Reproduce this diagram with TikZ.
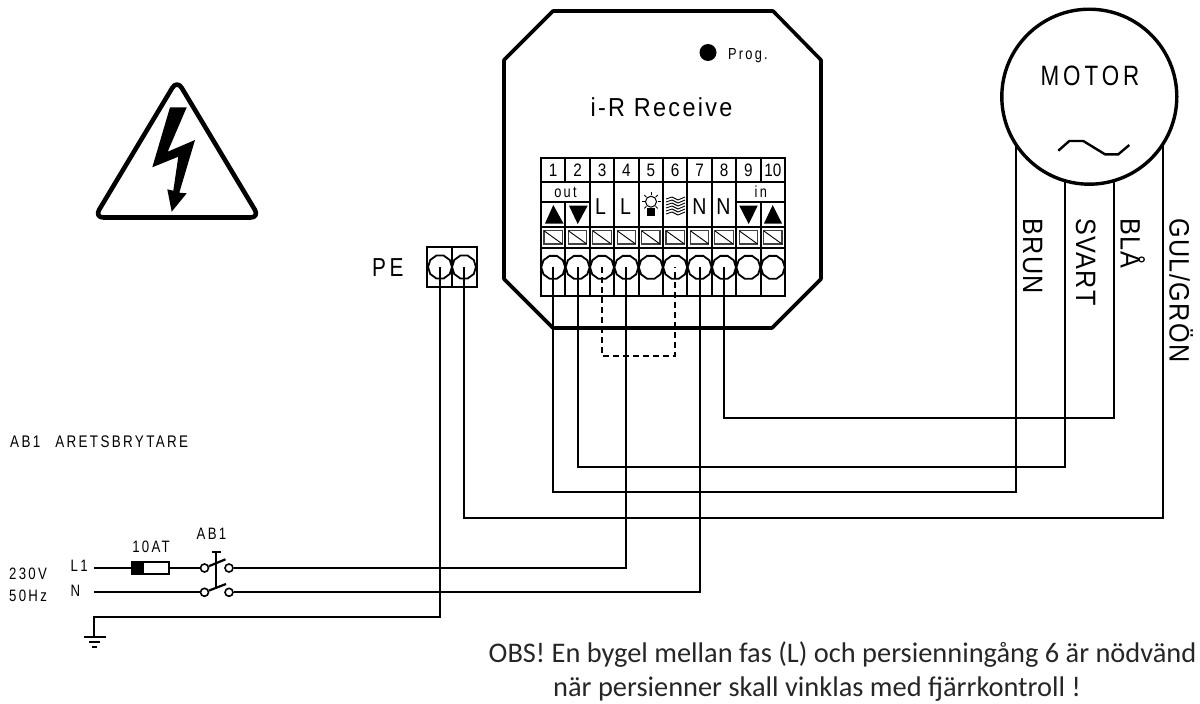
\documentclass[tikz,border=0pt]{standalone}
\usepackage{fontspec}
\setmainfont{Liberation Sans}
\newfontfamily\spcfont[LetterSpace=14,FakeStretch=0.8]{Liberation Sans}
\newfontfamily\widefont[LetterSpace=5,FakeStretch=0.9]{Liberation Sans}
\newfontfamily\recfont[LetterSpace=9,FakeStretch=0.9]{Liberation Sans}
\newfontfamily\nrwfont[FakeStretch=0.85]{Liberation Sans}
\newfontfamily\obsfont{Carlito}
\usetikzlibrary{
    positioning,
    shapes.geometric,
    calc,
}

\begin{document}
\begin{tikzpicture}[
        x=1pt, y=-1pt,
        wire/.style={line width=2pt, black},
        casing/.style={line width=3.6pt, black, line join=round},
        grid/.style={line width=2pt, black},
        txt/.style={inner sep=0pt, font=\spcfont\fontsize{#1}{#1}\selectfont},
        plain/.style={inner sep=0pt, font=\nrwfont\fontsize{#1}{#1}\selectfont},
        colour/.style={inner sep=0pt, rotate=-90, anchor=base west, font=\widefont\fontsize{28}{28}\selectfont},
        note/.style={inner sep=0pt, anchor=base west, font=\obsfont\fontsize{28.4}{28.4}\selectfont, text=black!85},
        screw/.style={
            regular polygon, regular polygon sides=10, draw=black, line width=1.8pt,
            inner sep=0pt, outer sep=0pt, minimum size=24pt
        },
        contact/.style={circle, draw=black, line width=1.6pt, inner sep=0pt, minimum size=8pt},
        clamp/.style={draw=black!75, line width=1.3pt},
    ]
    \useasboundingbox (0,0) rectangle (1200,704);

    % -- warning sign --
    \draw[line width=4.6pt, rounded corners=9pt, line join=round]
        (177,80) -- (259.5,217.5) -- (94.5,217.5) -- cycle;
    \fill (170,107.3) -- (186.7,107.3) -- (167.7,151.7) -- (195,140) -- (179.3,192.7)
        -- (186.7,193.3) -- (171.7,211.7) -- (167.3,189.3) -- (173.3,190.7)
        -- (178.3,156.7) -- (152.3,167.3) -- cycle;

    % -- receiver casing --
    \draw[casing] (553,11) -- (773,11) -- (821,60) -- (821,279) -- (772,328)
        -- (553,328) -- (504,279) -- (504,60) -- cycle;
    \node[circle, fill=black, inner sep=0pt, minimum size=17pt] (progdot) at (708,52.5) {};
    \node[txt=16, anchor=base west] (prog) at (728,59) {Prog.};
    \node[inner sep=0pt, font=\recfont\fontsize{26}{26}\selectfont, anchor=base] (receive) at (661.5,116.5) {i-R Receive};

    % -- terminal block --
    \draw[grid] (541,158) rectangle (785,296);
    \foreach \yl in {182,226.7,247.7} {
        \draw[grid] (541,\yl) -- (785,\yl);
    }
    \foreach \i in {1,...,9} {
        \draw[grid] ({541+\i*24.4},158) -- ({541+\i*24.4},182);
        \draw[grid] ({541+\i*24.4},226.7) -- ({541+\i*24.4},296);
    }
    \foreach \i in {2,...,8} {
        \draw[grid] ({541+\i*24.4},182) -- ({541+\i*24.4},226.7);
    }
    \draw[grid] (541,201.7) -- (590,201.7);
    \draw[grid] (736.7,201.7) -- (785,201.7);
    \draw[grid] (565.4,201.7) -- (565.4,226.7);
    \draw[grid] (760.6,201.7) -- (760.6,226.7);

    % -- terminals --
    \foreach \i in {1,...,10} {
        \node[plain=18] (num\i) at ({541+(\i-.5)*24.4},170) {\i};
        \draw[clamp] ({541+(\i-1)*24.4+3},230.8) rectangle ({541+\i*24.4-3},244);
        \draw[line width=0.9pt] ({541+(\i-1)*24.4+3},230.8) -- ({541+\i*24.4-3},244);
        \node[screw] (t\i) at ({541+(\i-.5)*24.4},267.3) {};
    }
    \node[txt=16] (out) at (565.5,192) {out};
    \node[txt=16] (in) at (760.8,192) {in};
    \node[plain=23] (l3) at (600.5,207) {L};
    \node[plain=23] (l4) at (625.5,207) {L};
    \node[plain=23] (n7) at (699.5,207) {N};
    \node[plain=23] (n8) at (723.5,207) {N};
    \fill (553.3,205) -- (563.5,223.5) -- (545,223.5) -- cycle;
    \fill (569,205.7) -- (587.7,205.7) -- (577.7,224) -- cycle;
    \fill (739.3,205.7) -- (757.7,205.7) -- (748.7,224) -- cycle;
    \fill (772.7,205) -- (782,223.5) -- (764,223.5) -- cycle;

    % -- lamp --
    \draw[line width=1pt] (651,201.7) circle (5.5pt);
    \fill (647,207.7) rectangle (655,216);
    \foreach \a in {0,45,...,315} {
        \draw[line width=.8pt] (651,201.7) ++(\a:6.5pt) -- ++(\a:3pt);
    }

    % -- louvre --
    \foreach \yl in {0,...,5} {
        \draw[line width=.9pt] (666,{199+\yl*3}) -- (672,{197+\yl*3})
            -- (678,{200+\yl*3}) -- (685,{197+\yl*3});
    }

    % -- PE block --
    \draw[grid] (427,246.7) rectangle (476.7,287);
    \draw[grid] (452,246.7) -- (452,287);
    \node[screw] (pe1) at (440,267) {};
    \node[screw] (pe2) at (464,267) {};
    \node[txt=26, anchor=base west] (pelabel) at (372,276) {PE};

    % -- motor --
    \node[circle, draw=black, line width=3.4pt, inner sep=0pt, minimum size=175pt] (motor) at (1089.3,96.7) {};
    \node[txt=28, anchor=base] (motorlabel) at (1090,85) {MOTOR};
    \draw[line width=2.4pt] (1058.3,150.7) -- (1069.3,141) -- (1083.3,141) -- (1105,154.3)
        -- (1118.3,154.3) -- (1129.3,145);
    \coordinate (mbrun) at (1016,143.6);
    \coordinate (msvart) at (1065,180.2);
    \coordinate (mbla) at (1113.7,180.2);
    \coordinate (mgul) at (1162.7,143.6);
    \coordinate (brun) at (1016,492);
    \coordinate (svart) at (1065,467);
    \coordinate (bla) at (1113.7,418);
    \coordinate (gul) at (1162.7,518);

    \node[colour] (brunlabel) at (1023,218) {BRUN};
    \node[colour] (svartlabel) at (1076,218) {SVART};
    \node[colour] (blalabel) at (1120.5,218) {BLÅ};
    \node[colour] (gullabel) at (1169.5,218) {GUL/GRÖN};

    % -- wires to motor --
    \draw[wire] (t1.center) |- (brun) -- (mbrun);
    \draw[wire] (t2.center) |- (svart) -- (msvart);
    \draw[wire] (t8.center) |- (bla) -- (mbla);
    \draw[wire] (pe2.center) |- (gul) -- (mgul);

    % -- bridge --
    \coordinate (bridgel) at (t3.center |- 0,356);
    \coordinate (bridger) at (t6.center |- 0,356);
    \draw[wire, dash pattern=on 6pt off 4pt] (t3.center) -- (bridgel) -- (bridger) -- (t6.center);

    % -- mains --
    \node[txt=16.8, anchor=base west] (ab1text) at (10,447.5) {AB1\hspace{15pt}ARETSBRYTARE};
    \node[txt=16.5, anchor=west] (volt) at (9,574) {230V};
    \node[txt=16.5, anchor=west] (hz) at (9,596) {50Hz};
    \node[txt=16.5, anchor=west] (lone) at (70.5,566) {L1};
    \node[txt=16.5, anchor=west] (neutral) at (70.5,591) {N};
    \node[txt=16.5] (fuselabel) at (151,547) {10AT};
    \node[txt=16.5] (ab1) at (211.5,534) {AB1};

    \coordinate (l1start) at (94,568);
    \coordinate (nstart) at (94,592.3);
    \coordinate (earth) at (94,617);
    \coordinate (gnd) at (94,637);
    \node[draw=black, line width=1.6pt, minimum width=37pt, minimum height=12.5pt, inner sep=0pt, anchor=west] (fuse) at (131,568) {};
    \fill (fuse.north west) rectangle (144,574.3);
    \node[contact] (swl1a) at (204.5,568) {};
    \node[contact] (swl1b) at (229,568) {};
    \node[contact] (swna) at (204.5,592.3) {};
    \node[contact] (swnb) at (229,592.3) {};
    \draw[line width=2.2pt] (swl1a) -- (225.5,559.3);
    \draw[line width=2.2pt] (swna) -- (226,584);
    \draw[wire] (216,552) -- (216,587);
    \draw[wire] (211.7,552) -- (220.7,552);

    \draw[wire] (l1start) -- (fuse);
    \draw[wire] (fuse) -- (swl1a);
    \draw[wire] (nstart) -- (swna);
    \draw[wire] (swl1b) -| (t4.center);
    \draw[wire] (swnb) -| (t7.center);
    \draw[wire] (pe1.center) |- (earth) -- (gnd);
    \draw[wire] (83.5,637) -- (105.5,637);
    \draw[wire] (89,642) -- (100,642);
    \draw[wire] (92,647) -- (97,647);

    % -- note --
    \node[note] (obs1) at (488.5,662.7) {OBS! En bygel mellan fas (L) och persienningång 6 är nödvänd};
    \node[note] (obs2) at (553,696) {när persienner skall vinklas med fjärrkontroll !};
\end{tikzpicture}
\end{document}
